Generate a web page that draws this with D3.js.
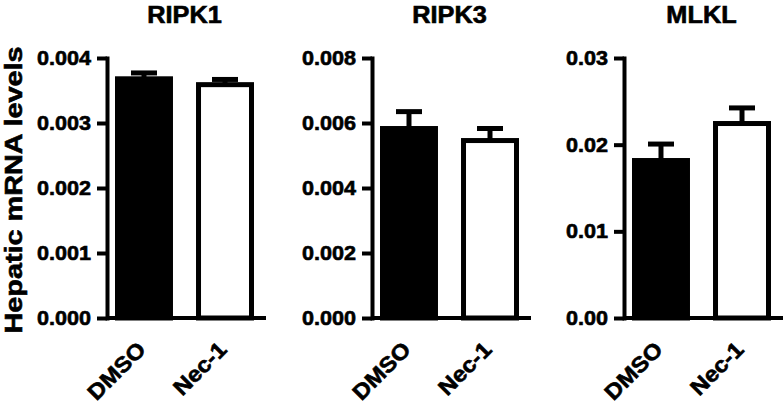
<!DOCTYPE html>
<html>
<head>
<meta charset="utf-8">
<script src="https://d3js.org/d3.v7.min.js"></script>
<style>
  body { margin: 0; background: #fff; }
  svg text { font-family: "Liberation Sans", Arial, Helvetica, sans-serif; font-weight: bold; fill: #000; stroke: #000; stroke-width: 0.6px; }
</style>
</head>
<body>
<svg id="chart" width="784" height="408"></svg>
<script>
// data
const genes = ["RIPK1", "RIPK3", "MLKL"];
const groups = ["DMSO", "Nec-1"];
const meanValues = [[0.00368, 0.00359], [0.00583, 0.00546], [0.01817, 0.02244]];
const semValues = [[0.00009, 0.00008], [0.00052, 0.00037], [0.0019, 0.0018]];
const yMax = [0.004, 0.008, 0.03];
const yTicks = [
  [0, 0.001, 0.002, 0.003, 0.004],
  [0, 0.002, 0.004, 0.006, 0.008],
  [0, 0.01, 0.02, 0.03]
];
const tickFormats = [".3f", ".3f", ".2f"];
const fills = ["#000", "#fff"];

const svg = d3.select("#chart");
const axisX = [107, 372, 624];
const panelW = 159;
const yTop = 58, yBottom = 318;
const lw = 4;

// wide glyphs in the source figure: stretch text along its baseline
function stretch(sel, k) {
  sel.each(function () {
    const w = this.getComputedTextLength();
    d3.select(this).attr("textLength", w * k).attr("lengthAdjust", "spacingAndGlyphs");
  });
}

genes.forEach((gene, i) => {
  const ax = axisX[i];
  const g = svg.append("g");

  const y = d3.scaleLinear().domain([0, yMax[i]]).range([yBottom, yTop]);
  const x = d3.scaleBand()
    .domain(groups)
    .range([ax + 10.5, ax + 144.5])
    .paddingInner(0.346)
    .paddingOuter(0);

  // bars
  g.selectAll("rect.bar")
    .data(groups)
    .join("rect")
    .attr("class", "bar")
    .attr("x", d => x(d))
    .attr("width", x.bandwidth())
    .attr("y", (d, j) => y(meanValues[i][j]))
    .attr("height", (d, j) => y(0) - y(meanValues[i][j]))
    .attr("fill", (d, j) => fills[j])
    .attr("stroke", "#000")
    .attr("stroke-width", 5);

  // error bars (upper only)
  const eb = g.selectAll("g.err")
    .data(groups)
    .join("g")
    .attr("class", "err");
  eb.append("line")
    .attr("x1", d => x(d) + x.bandwidth() / 2)
    .attr("x2", d => x(d) + x.bandwidth() / 2)
    .attr("y1", (d, j) => y(meanValues[i][j]))
    .attr("y2", (d, j) => y(meanValues[i][j] + semValues[i][j]))
    .attr("stroke", "#000").attr("stroke-width", 5);
  eb.append("line")
    .attr("x1", d => x(d) + x.bandwidth() / 2 - 13)
    .attr("x2", d => x(d) + x.bandwidth() / 2 + 13)
    .attr("y1", (d, j) => y(meanValues[i][j] + semValues[i][j]))
    .attr("y2", (d, j) => y(meanValues[i][j] + semValues[i][j]))
    .attr("stroke", "#000").attr("stroke-width", 5);

  // y axis
  const yAxis = d3.axisLeft(y)
    .tickValues(yTicks[i])
    .tickFormat(d3.format(tickFormats[i]))
    .tickSize(10)
    .tickSizeOuter(0)
    .tickPadding(6);
  const ya = g.append("g")
    .attr("transform", `translate(${ax},0)`)
    .call(yAxis);
  ya.select(".domain").attr("stroke-width", lw).attr("stroke-linecap", "square");
  ya.selectAll(".tick line").attr("stroke-width", lw);
  ya.selectAll(".tick text")
    .style("font-size", "20px")
    .attr("fill", "#000")
    .call(stretch, 1.08);

  // baseline
  g.append("line")
    .attr("x1", ax).attr("x2", ax + panelW)
    .attr("y1", y(0)).attr("y2", y(0))
    .attr("stroke", "#000").attr("stroke-width", lw);

  // group labels
  g.selectAll("text.grp")
    .data(groups)
    .join("text")
    .attr("class", "grp")
    .attr("text-anchor", "end")
    .attr("transform", d => `translate(${x(d) + x.bandwidth() / 2 + 3},351) rotate(-45)`)
    .style("font-size", "22px")
    .text(d => d)
    .call(stretch, 1.08);

  // title
  g.append("text")
    .attr("x", (x(groups[0]) + x(groups[1]) + x.bandwidth()) / 2)
    .attr("y", 23)
    .attr("text-anchor", "middle")
    .style("font-size", "23px")
    .text(gene)
    .call(stretch, 1.1);
});

svg.append("text")
  .attr("text-anchor", "middle")
  .attr("transform", "translate(22,190) rotate(-90)")
  .style("font-size", "24px")
  .text("Hepatic mRNA levels")
  .call(stretch, 1.2);
</script>
</body>
</html>
